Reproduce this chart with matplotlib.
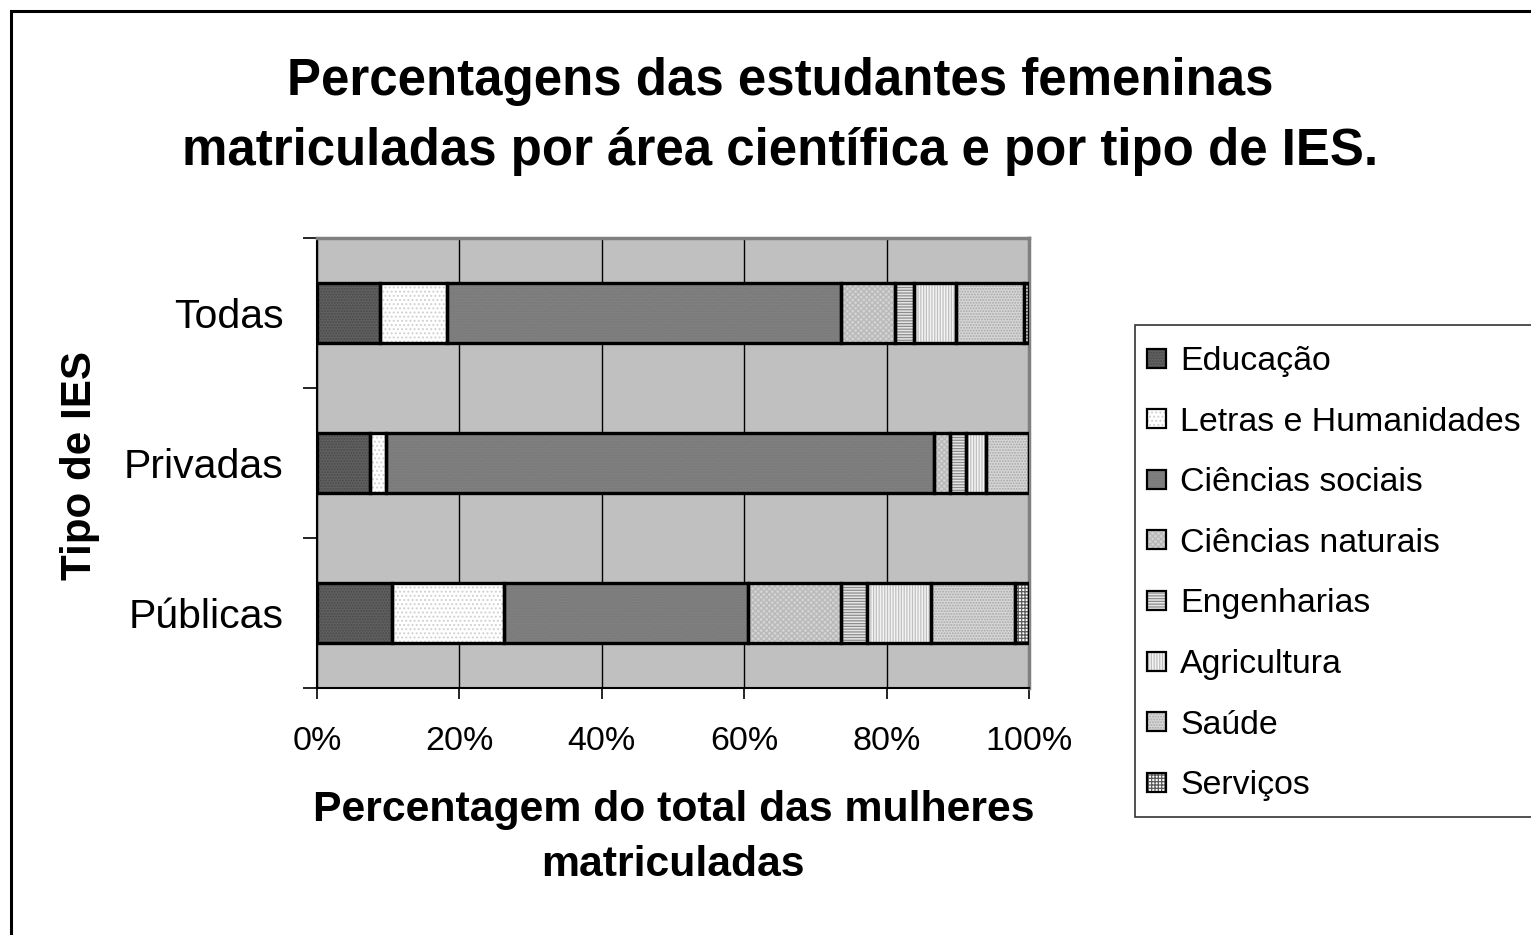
import matplotlib
matplotlib.use("Agg")
import matplotlib.pyplot as plt
from matplotlib.patches import Rectangle
import numpy as np

plt.rcParams['font.family'] = ['Liberation Sans', 'DejaVu Sans']
plt.rcParams['hatch.linewidth'] = 0.9

# ---- data ----
categories = ["Públicas", "Privadas", "Todas"]
areas = ["Educação", "Letras e Humanidades", "Ciências sociais", "Ciências naturais",
         "Engenharias", "Agricultura", "Saúde", "Serviços"]
educacao = [10.5, 7.4, 8.9]
letras = [15.7, 2.3, 9.4]
ciencias_sociais = [34.3, 77.0, 55.3]
ciencias_naturais = [13.1, 2.2, 7.6]
engenharias = [3.6, 2.3, 2.6]
agricultura = [9.0, 2.8, 5.9]
saude = [11.8, 6.0, 9.6]
servicos = [2.0, 0.0, 0.7]
series = [educacao, letras, ciencias_sociais, ciencias_naturais,
          engenharias, agricultura, saude, servicos]
xticks = [0, 20, 40, 60, 80, 100]
xtick_labels = ["0%", "20%", "40%", "60%", "80%", "100%"]

# ---- styles ----
styles = [
    dict(face="#606060", hatch="......", hcol="#4a4a4a"),
    dict(face="#ffffff", hatch="....", hcol="#d0d0d0"),
    dict(face="#808080", hatch="......", hcol="#787878"),
    dict(face="#d2d2d2", hatch="xxxxxx", hcol="#b8b8b8"),
    dict(face="#e6e6e6", hatch="------", hcol="#8c8c8c"),
    dict(face="#f4f4f4", hatch="||||||", hcol="#c0c0c0"),
    dict(face="#d6d6d6", hatch="......", hcol="#a8a8a8"),
    dict(face="#ffffff", hatch="+++++", hcol="#5a5a5a"),
]

W, H = 1531, 935
fig = plt.figure(figsize=(W / 100, H / 100), dpi=100)
fig.patch.set_facecolor("white")

ax = fig.add_axes([317 / W, 1 - 688 / H, (1029 - 317) / W, (688 - 238) / H])
ax.set_facecolor("#c0c0c0")

y = np.arange(len(categories))
left = np.zeros(len(categories))
for vals, st in zip(series, styles):
    vals = np.array(vals, dtype=float)
    ax.barh(y, vals, left=left, height=0.4, color=st["face"], hatch=st["hatch"],
            edgecolor=st["hcol"], linewidth=0, zorder=3)
    ax.barh(y, vals, left=left, height=0.4, fill=False, edgecolor="black",
            linewidth=2.4, zorder=4)
    left += vals

ax.set_xlim(0, 100)
ax.set_ylim(-0.5, 2.5)
ax.set_xticks(xticks)
ax.set_xticklabels(xtick_labels, fontsize=24.5)
ax.set_yticks(y)
ax.set_yticklabels(categories, fontsize=29.5)
ax.set_yticks([-0.5, 0.5, 1.5, 2.5], minor=True)
ax.tick_params(axis="y", which="major", length=0, pad=24)
ax.tick_params(axis="y", which="minor", length=10, width=1.2, color="black", direction="out")
ax.tick_params(axis="x", which="major", length=8, width=1.2, color="black", direction="out", pad=19)

ax.grid(axis="x", color="black", linewidth=1.0, zorder=1)
ax.set_axisbelow(True)
for s in ["left", "bottom"]:
    ax.spines[s].set_color("black")
    ax.spines[s].set_linewidth(1.5)
for s in ["top", "right"]:
    ax.spines[s].set_color("#808080")
    ax.spines[s].set_linewidth(2.5)

# titles and labels
fig.text(780 / W, 1 - 82 / H, "Percentagens das estudantes femeninas",
         ha="center", va="center", fontsize=36.7, fontweight="bold")
fig.text(780 / W, 1 - 152 / H, "matriculadas por área científica e por tipo de IES.",
         ha="center", va="center", fontsize=36.7, fontweight="bold")
fig.text(674 / W, 1 - 810 / H, "Percentagem do total das mulheres",
         ha="center", va="center", fontsize=30.8, fontweight="bold")
fig.text(673 / W, 1 - 865 / H, "matriculadas",
         ha="center", va="center", fontsize=30.8, fontweight="bold")
fig.text(80 / W, 1 - 465 / H, "Tipo de IES", ha="center", va="center",
         fontsize=30.3, fontweight="bold", rotation=90)

# legend (drawn manually in figure pixel coordinates for exact placement)
def fx(px):
    return px / W

def fy(py):
    return 1 - py / H

fig.patches.append(Rectangle((fx(1135), fy(817)), fx(1545) - fx(1135), fy(325) - fy(817),
                             transform=fig.transFigure, fill=True, facecolor="white",
                             edgecolor="#333333", linewidth=1.2, zorder=5))
row0, step, hs = 358, 60.6, 19
for i, (name, st) in enumerate(zip(areas, styles)):
    yc = row0 + i * step
    fig.patches.append(Rectangle((fx(1147), fy(yc + hs / 2)), hs / W, hs / H,
                                 transform=fig.transFigure, facecolor=st["face"],
                                 hatch=st["hatch"], edgecolor=st["hcol"], linewidth=0, zorder=6))
    fig.patches.append(Rectangle((fx(1147), fy(yc + hs / 2)), hs / W, hs / H,
                                 transform=fig.transFigure, fill=False,
                                 edgecolor="black", linewidth=1.6, zorder=7))
    fig.text(fx(1180), fy(yc), name, ha="left", va="center_baseline", fontsize=24.4, zorder=8)

# outer chart frame
fig.patches.append(Rectangle((11 / W, -0.2), 2.0, (1 - 11 / H) + 0.2, transform=fig.transFigure,
                             fill=False, edgecolor="black", linewidth=2.2))

fig.savefig("out.png", dpi=100)
